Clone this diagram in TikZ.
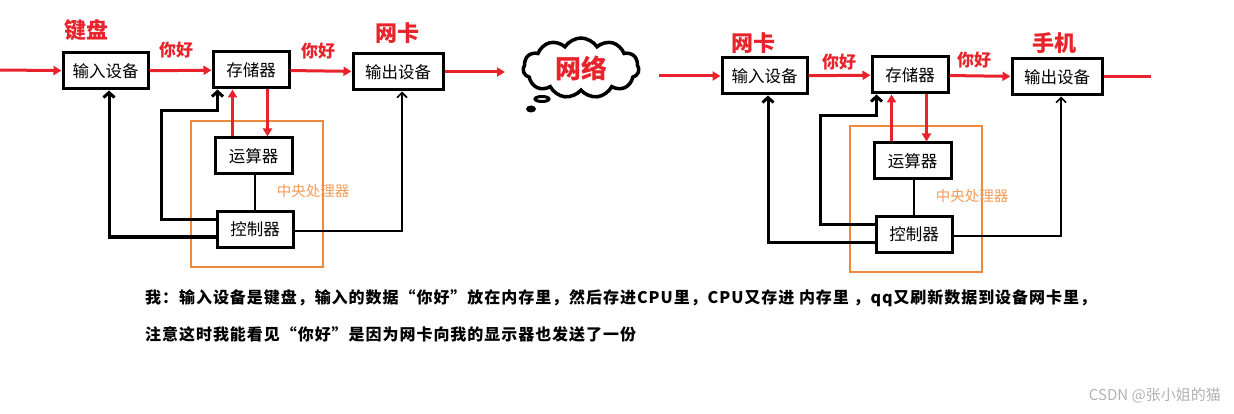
\documentclass[tikz,border=0pt]{standalone}
\usepackage{fontspec}
\newfontfamily\cjk{Noto Sans CJK SC}
\newfontfamily\cjknote{Noto Sans CJK SC}[LetterSpace=6]
\usepackage{tikz}
\usetikzlibrary{arrows.meta, positioning, calc, shapes.symbols}
\definecolor{cred}{HTML}{E8232B}
\definecolor{corange}{HTML}{F0883C}
\definecolor{clabel}{HTML}{F39A55}

\begin{document}
\begin{tikzpicture}[x=1pt, y=-1pt,
    dev/.style={draw, line width=3pt, fill=white, minimum height=36pt, inner sep=0pt,
      font={\cjk\fontsize{16.5}{18}\selectfont}},
    lab/.style={text=cred, font={\cjk\bfseries\fontsize{22}{24}\selectfont}},
    hello/.style={text=cred, font={\cjk\bfseries\fontsize{17}{19}\selectfont}},
    flow/.style={draw=cred, line width=3pt, -{Triangle[length=8pt, width=9pt]}},
    ctrl/.style={line width=3pt, -{Straight Barb[length=5pt, width=11pt]}},
    thinctrl/.style={line width=1.6pt, -{Straight Barb[length=5pt, width=10pt]}},
    cpu/.style={draw=corange, line width=1.5pt},
    cputxt/.style={text=clabel, font={\cjk\fontsize{14.5}{16}\selectfont}},
    note/.style={anchor=west, inner sep=0pt, font={\cjknote\bfseries\fontsize{16}{18}\selectfont}},
    wm/.style={anchor=east, inner sep=0pt, text=black!30, font={\cjk\fontsize{15}{17}\selectfont}}]
  \useasboundingbox (0,0) rectangle (1234,414);

  % the two machines: same blocks, shifted
  \foreach \s/\dx/\dy in {1/0/0, 2/659/5} {
    \begin{scope}[shift={(\dx,\dy)}]
      % blocks
      \node[dev, minimum width=85pt] (in\s)  at (105.5,71)  {输入设备};
      \node[dev, minimum width=76pt] (mem\s) at (251,70)    {存储器};
      \node[dev, minimum width=90pt] (out\s) at (398,72)    {输出设备};
      \node[dev, minimum width=77pt] (alu\s) at (253.5,156) {运算器};
      \node[dev, minimum width=76pt] (ctl\s) at (255,229.5) {控制器};

      % cpu frame
      \draw[cpu] (191,121) rectangle (323,267);
      \node[cputxt] (cpu\s) at (313,191) {中央处理器};

      % data flow
      \draw[flow] (in\s) -- (mem\s);
      \draw[flow] (mem\s) -- (out\s);
      \coordinate (up\s) at ([xshift=19pt]alu\s.north west);
      \coordinate (dn\s) at ([xshift=56pt]mem\s.south west);
      \draw[flow] (up\s) -- (up\s |- mem\s.south);
      \draw[flow] (dn\s) -- (dn\s |- alu\s.north);

      % control lines
      \draw[line width=2.2pt] (ctl\s.north |- alu\s.south) -- (ctl\s.north);
      \draw[ctrl] ([yshift=9.5pt]ctl\s.west) -| (161,111)
        -| ([xshift=6pt]mem\s.south west);
      \draw[ctrl] ([yshift=-7.5pt]ctl\s.west) -| ([xshift=3.5pt]in\s.south);
      \draw[thinctrl] ([yshift=-1.5pt]ctl\s.east) -| ([xshift=4pt]out\s.south);
    \end{scope}
  }

  % labels over the blocks
  \node[lab] (kbd)  at (86,30)    {键盘};
  \node[lab] (nic1) at (397,33)   {网卡};
  \node[lab] (nic2) at (753,43)   {网卡};
  \node[lab] (phone) at (1054,43) {手机};
  \node[hello] (hi1) at (176,50)  {你好};
  \node[hello] (hi2) at (318,51)  {你好};
  \node[hello] (hi3) at (839,62)  {你好};
  \node[hello] (hi4) at (974,60)  {你好};

  % network cloud
  \node[cloud, cloud puffs=11, cloud puff arc=115, aspect=1.9, draw, line width=3.5pt,
    minimum width=116pt, minimum height=60pt, inner sep=0pt,
    text=cred, font={\cjk\bfseries\fontsize{26}{28}\selectfont}] (net) at (581,68) {网络};
  \draw[line width=3pt] (542,99) ellipse (7pt and 2.5pt);
  \fill (531,109) ellipse (5pt and 3.5pt);

  % in and out
  \coordinate (src1) at (0,70);
  \coordinate (dst1) at (505,72);
  \coordinate (src2) at (659,76);
  \coordinate (dst2) at (1151,77);
  \draw[flow] (src1) -- (in1);
  \draw[flow] (out1) -- (dst1);
  \draw[flow] (src2) -- (in2);
  \draw[draw=cred, line width=3pt] (out2) -- (dst2);

  % explanation
  \node[note] (line1) at (145,298)
    {我：输入设备是键盘，输入的数据“你好”放在内存里，然后存进CPU里，CPU又存进 内存里 ，qq又刷新数据到设备网卡里，};
  \node[note] (line2) at (145,334)
    {注意这时我能看见“你好”是因为网卡向我的显示器也发送了一份};
  \node[wm] (csdn) at (1221,395) {CSDN @张小姐的猫};
\end{tikzpicture}
\end{document}
